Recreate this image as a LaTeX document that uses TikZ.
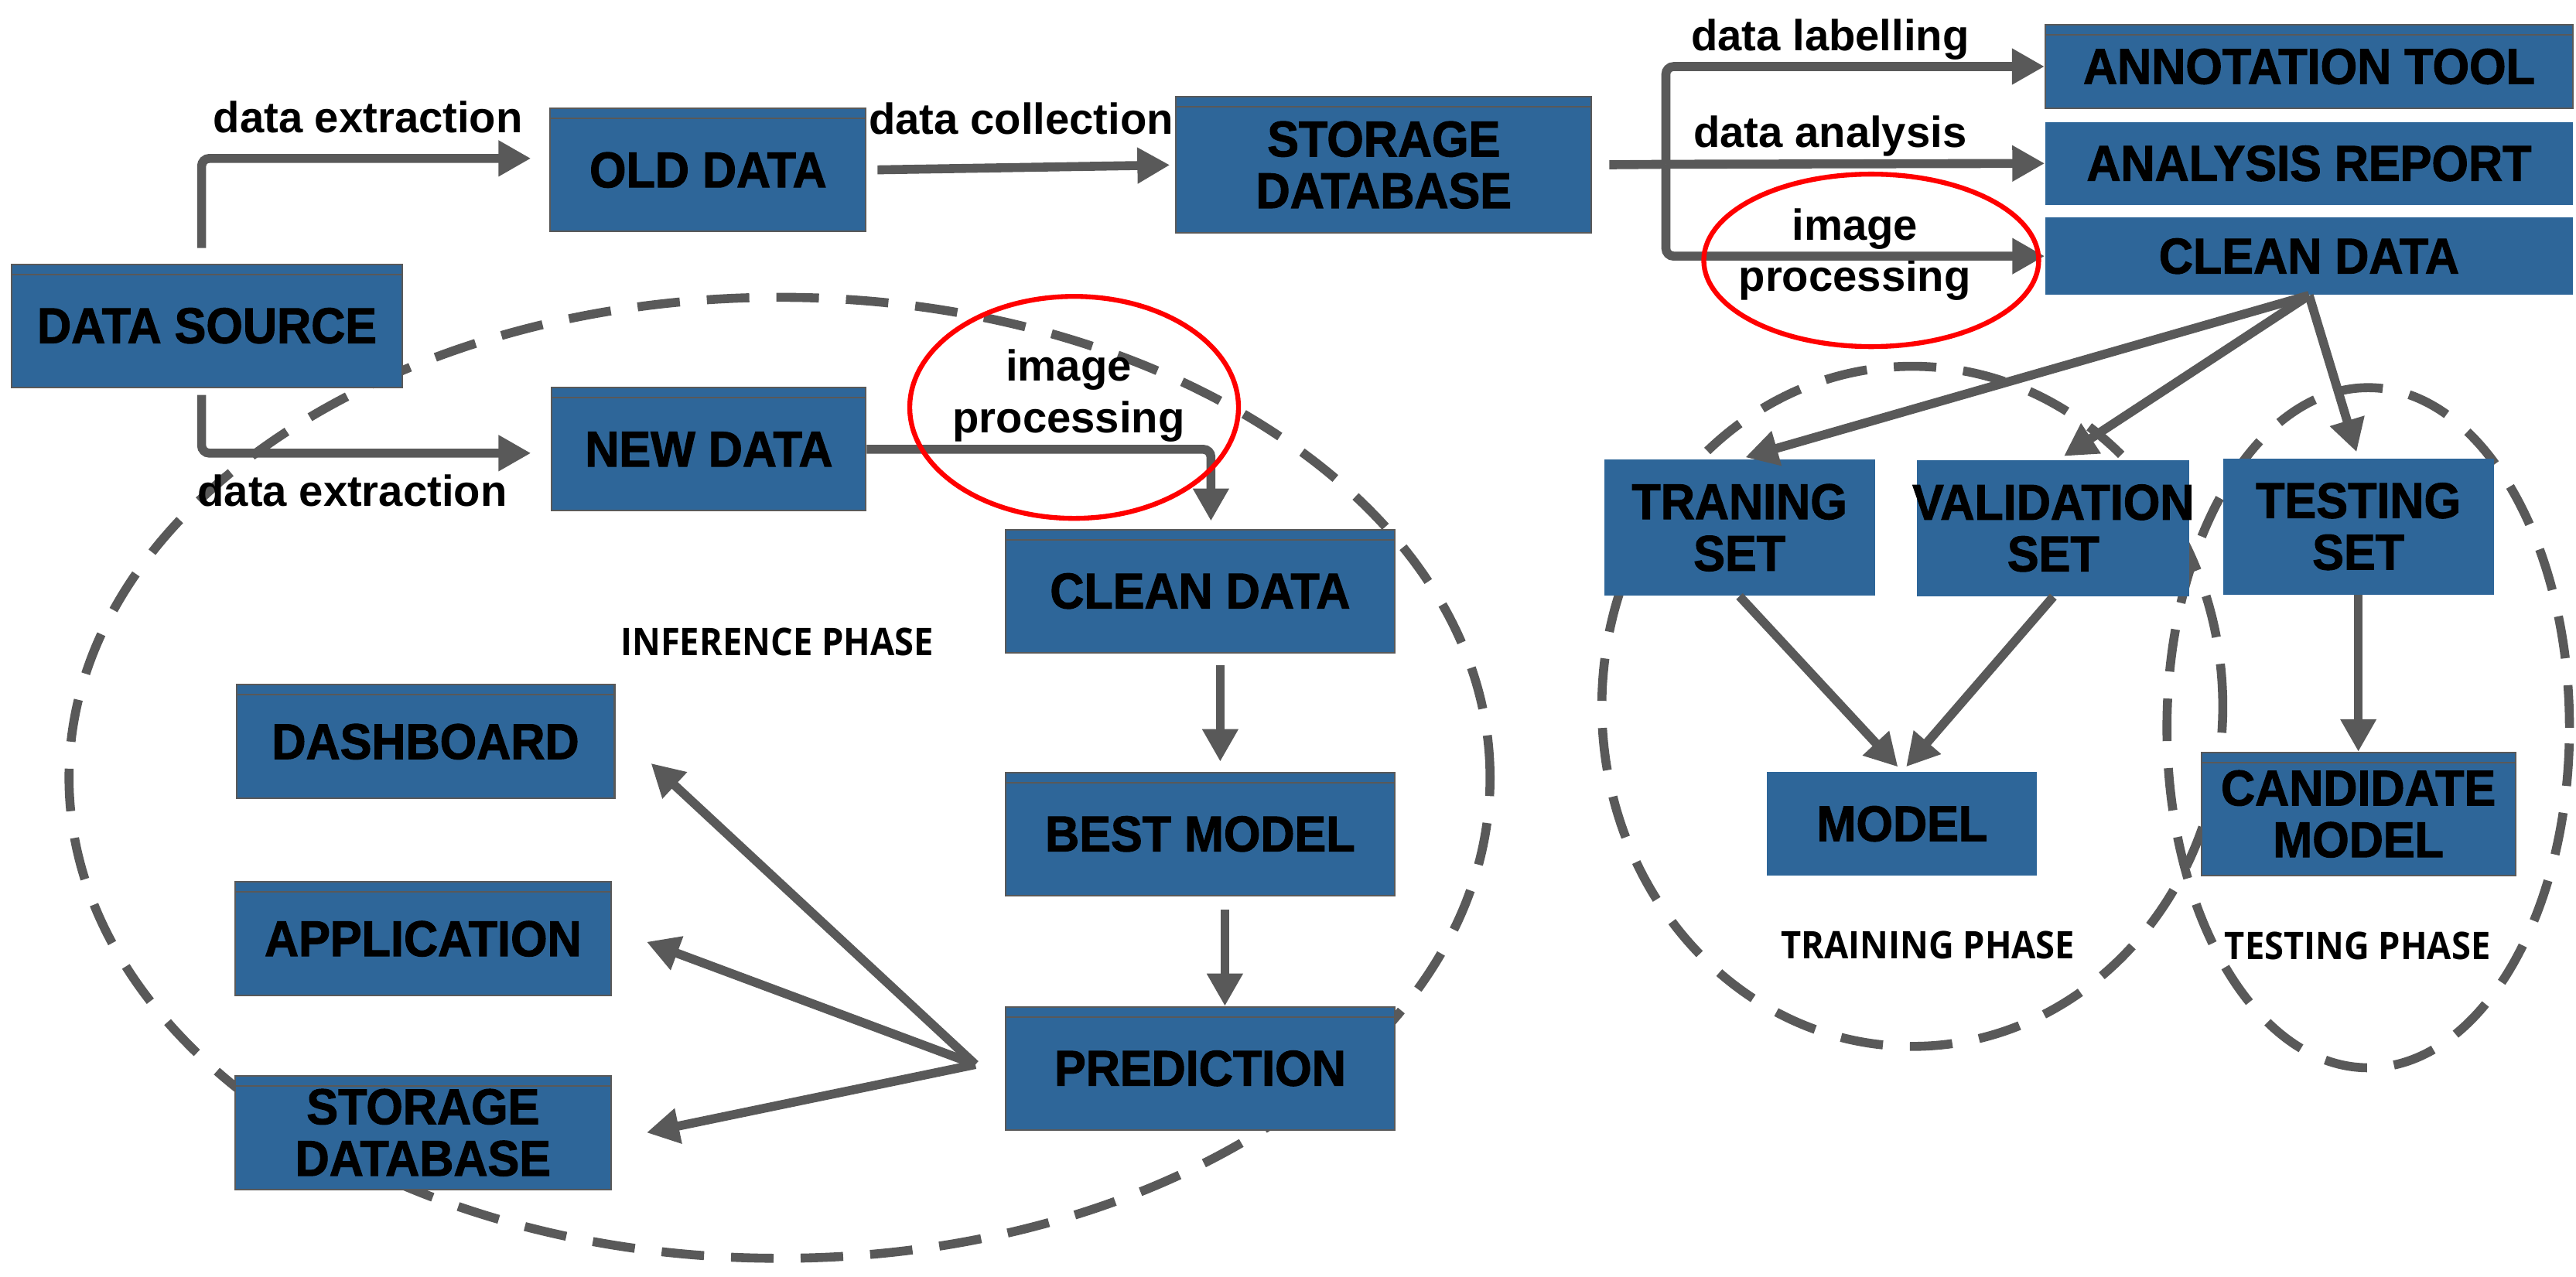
\documentclass[tikz,border=0pt]{standalone}
\usepackage{fontspec}
\setmainfont{Liberation Sans}
\newfontfamily\boxfont[BoldFeatures={FakeBold=1.6}, FakeStretch=0.94]{Liberation Sans}
\newfontfamily\phasefont[FakeStretch=0.92]{Open Sans}
\usepackage{xcolor}
\usetikzlibrary{arrows.meta, positioning, shapes.geometric}

\definecolor{boxblue}{RGB}{46,102,153}
\definecolor{linegray}{RGB}{89,89,89}

\begin{document}
\begin{tikzpicture}[
        x=0.2124mm, y=-0.2124mm,
        box/.style={rectangle, fill=boxblue, align=center, inner sep=0pt, minimum width=50.3mm, minimum height=15.9mm, font=\boxfont\bfseries\fontsize{18.5}{19}\selectfont},
        framed/.style={box, draw=linegray, line width=0.6pt, path picture={\draw[linegray, line width=0.6pt] ([yshift=-1.3mm]path picture bounding box.north west) -- ([yshift=-1.3mm]path picture bounding box.north east);}},
        lbl/.style={align=center, inner sep=0pt, font=\bfseries\fontsize{16}{19}\selectfont},
        phase/.style={inner sep=0pt, font=\phasefont\bfseries\fontsize{14}{16}\selectfont},
        ring/.style={ellipse, draw=red, line width=1.8pt, inner sep=0pt},
        dashring/.style={draw=linegray, line width=3.3pt, dash pattern=on 5.5mm off 3.5mm},
        arrow/.style={-{Triangle[length=4.2mm, width=4.4mm]}, draw=linegray, line width=3.3pt, rounded corners=1mm},
        link/.style={draw=linegray, line width=3.3pt}
    ]
    \useasboundingbox (0,0) rectangle (1568,777);

    \draw[dashring] (474.5,473.5) ellipse [x radius=91.86mm, y radius=62.13mm];
    \draw[dashring] (1164,430) ellipse [x radius=40.14mm, y radius=43.97mm];
    \draw[dashring] (1441.5,443) ellipse [x radius=26.02mm, y radius=43.97mm];

    \node[framed, minimum width=50.5mm] (src) at (126,198.3) {DATA SOURCE};
    \node[framed, minimum width=40.8mm] (old) at (431,103.5) {OLD DATA};
    \node[framed, minimum width=40.6mm] (new) at (431.5,273.5) {NEW DATA};
    \node[framed, minimum width=53.7mm, minimum height=17.6mm] (stor) at (842.3,100.4) {STORAGE\\DATABASE};
    \node[framed, minimum width=68.2mm, minimum height=10.8mm] (annot) at (1405.5,40.5) {ANNOTATION TOOL};
    \node[box, minimum width=68.2mm, minimum height=10.7mm, below=1.6mm of annot] (anal) {ANALYSIS REPORT};
    \node[box, minimum width=68.2mm, minimum height=10mm, below=1.5mm of anal] (cleanR) {CLEAN DATA};

    \node[box, minimum width=35mm, minimum height=17.6mm] (train) at (1058.8,321.2) {TRANING\\SET};
    \node[box, minimum width=35.2mm, minimum height=17.6mm] (valid) at (1249.8,321.5) {\makebox[0pt]{VALIDATION}\\SET};
    \node[box, minimum width=35mm, minimum height=17.6mm] (test) at (1435.5,320.5) {TESTING\\SET};
    \node[box, minimum width=34.9mm, minimum height=13.4mm] (model) at (1157.8,501.5) {MODEL};
    \node[framed, minimum width=40.6mm] (cand) at (1435.5,495.5) {CANDIDATE\\MODEL};

    \node[framed] (cleanL) at (730.5,359.8) {CLEAN DATA};
    \node[framed, below=15.3mm of cleanL] (best) {BEST MODEL};
    \node[framed, below=14.2mm of best] (pred) {PREDICTION};
    \node[framed, minimum width=48.9mm, minimum height=14.7mm] (dash) at (259,451.5) {DASHBOARD};
    \node[framed, minimum width=48.6mm, minimum height=14.7mm] (app) at (257.5,571.5) {APPLICATION};
    \node[framed, minimum width=48.6mm, minimum height=14.7mm] (storB) at (257.5,689.5) {STORAGE\\DATABASE};

    \node[lbl] (ext1) at (224,71.4) {data extraction};
    \node[lbl] (ext2) at (214.5,298.5) {data extraction};
    \node[lbl] (coll) at (621.6,72.3) {data collection};
    \node[lbl] (lab) at (1114,24) {data labelling};
    \node[lbl] (ana) at (1114,83) {data analysis};
    \node[lbl] (procR) at (1129,155) {image\\processing};
    \node[lbl] (procL) at (650.5,241) {image\\processing};

    \node[phase] (infer) at (473,391) {INFERENCE PHASE};
    \node[phase] (trainph) at (1173.5,575.4) {TRAINING PHASE};
    \node[phase] (testph) at (1435,575.6) {TESTING PHASE};

    \draw[arrow, shorten <=2mm, shorten >=2.4mm] ([xshift=-0.7mm]src.north) |- ([yshift=1.5mm]old.west);
    \draw[arrow, shorten <=0.9mm, shorten >=2.6mm] ([xshift=-0.7mm]src.south) |- ([yshift=-0.5mm]new.west);
    \draw[arrow, shorten <=1.4mm, shorten >=0.7mm] (old.east) -- (stor.west);

    \coordinate (fork) at (1014,100);
    \draw[link, shorten <=2.2mm] (stor.east) -- (fork);
    \draw[arrow] (fork) |- (annot.west);
    \draw[arrow] (fork) -- (anal.west);
    \draw[arrow] (fork) |- (cleanR.west);

    \draw[arrow, shorten >=1mm] (new.east) -| ([xshift=1.4mm]cleanL.north);
    \draw[arrow, shorten <=1.5mm, shorten >=1.3mm] ([xshift=2.6mm]cleanL.south) -- ([xshift=2.6mm]best.north);
    \draw[arrow, shorten <=1.7mm] ([xshift=3.2mm]best.south) -- ([xshift=3.2mm]pred.north);

    \coordinate (fan) at ([xshift=-3.8mm, yshift=0.5mm]pred.west);
    \draw[arrow] (fan) -- ([xshift=4.6mm, yshift=-2.8mm]dash.east);
    \draw[arrow] (fan) -- ([xshift=4.5mm, yshift=-0.4mm]app.east);
    \draw[arrow] (fan) -- ([xshift=4.5mm]storB.east);

    \draw[arrow, shorten >=0.8mm] (cleanR.south) -- (train.north);
    \draw[arrow, shorten >=0.8mm] (cleanR.south) -- ([xshift=0.7mm]valid.north);
    \draw[arrow, shorten >=0.8mm] (cleanR.south) -- (test.north);
    \draw[arrow, shorten >=0.8mm] (train.south) -- (model.north);
    \draw[arrow, shorten >=0.8mm] (valid.south) -- (model.north);
    \draw[arrow] (test.south) -- (cand.north);

    \node[ring, minimum width=42.5mm, minimum height=28.7mm] (ringL) at (653.8,248) {};
    \node[ring, minimum width=43.3mm, minimum height=22.3mm] (ringR) at (1139,158.5) {};
\end{tikzpicture}
\end{document}
